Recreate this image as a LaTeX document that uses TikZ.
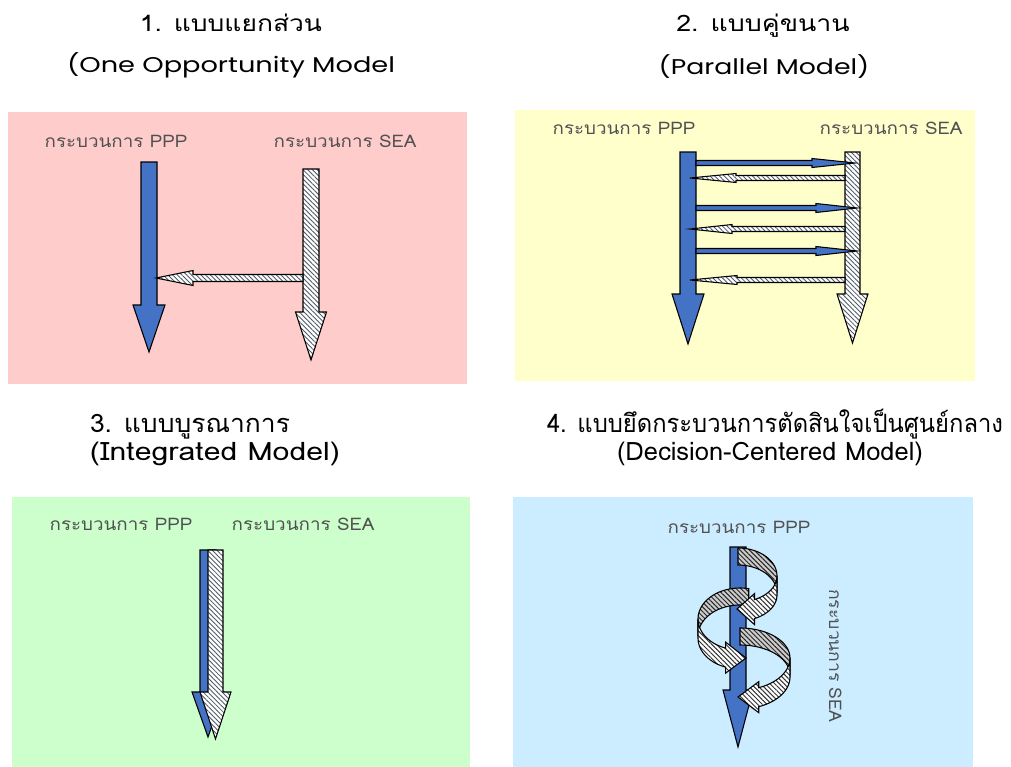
\documentclass[tikz,border=0pt]{standalone}
\usepackage{fontspec}
\usepackage{graphicx}
\newfontfamily\thaifont[Script=Thai]{Loma}
\newfontfamily\latinfont{Poppins}
\usetikzlibrary{patterns.meta}
\definecolor{pinkbg}{HTML}{FFCCCC}
\definecolor{yellowbg}{HTML}{FFFFCC}
\definecolor{greenbg}{HTML}{CCFFCC}
\definecolor{bluebg}{HTML}{CCECFF}
\definecolor{arrowblue}{HTML}{4472C4}
\definecolor{labelgray}{HTML}{505050}
\definecolor{hatchgray}{HTML}{505A66}
\newcommand{\fitw}[2]{\resizebox{#1}{\height}{#2}}
\tikzset{
  bluearrow/.style={fill=arrowblue, draw=black, line width=0.8pt},
  hatcharrow/.style={preaction={fill=white}, pattern={Lines[angle=-45,distance=2.5pt,line width=0.65pt]}, pattern color=hatchgray, draw=black, line width=0.8pt},
  backribbon/.style={preaction={fill=gray!40}, pattern={Lines[angle=-45,distance=2.5pt,line width=0.75pt]}, pattern color=black!85, draw=black, line width=0.8pt},
  frontribbon/.style={preaction={fill=white}, pattern={Lines[angle=-45,distance=2.5pt,line width=0.75pt]}, pattern color=black!80, draw=black, line width=0.8pt},
  titletext/.style={font=\thaifont\fontsize{17}{20}\selectfont, text=black, inner sep=0pt, anchor=base},
  latintitle/.style={font=\latinfont\fontsize{16}{20}\selectfont, text=black, inner sep=0pt, anchor=base},
  ctitletext/.style={font=\thaifont\fontsize{19}{22}\selectfont, text=black, inner sep=0pt, anchor=base},
  plabel/.style={font=\thaifont\fontsize{13}{15}\selectfont, text=labelgray, inner sep=0pt, anchor=base},
}
% style, x centre, y top, y head base, y tip, half shaft, half head
\newcommand{\varrowshape}[7]{%
  \path[#1] ({#2-#6},#3) -- ({#2+#6},#3) -- ({#2+#6},#4) -- ({#2+#7},#4) -- (#2,#5) -- ({#2-#7},#4) -- ({#2-#6},#4) -- cycle;}
% style, y centre, x start, x head base, x tip, half shaft, half head
\newcommand{\harrowshape}[7]{%
  \path[#1] (#3,{#2-#6}) -- (#4,{#2-#6}) -- (#4,{#2-#7}) -- (#5,#2) -- (#4,{#2+#7}) -- (#4,{#2+#6}) -- (#3,{#2+#6}) -- cycle;}
% cx cy rx ry h a0 a1
\newcommand{\ribbonback}[7]{%
  \path[backribbon] plot[domain=#6:#7, samples=30, variable=\t] ({#1+#3*cos(\t)},{#2-#4*sin(\t)})
   -- plot[domain=#7:#6, samples=30, variable=\t] ({#1+#3*cos(\t)},{#2+#5-#4*sin(\t)}) -- cycle;}
% cx cy rx ry h a0 a1 extra tip
\newcommand{\ribbonfront}[9]{%
  \path[frontribbon] plot[domain=#6:#7, samples=30, variable=\t] ({#1+#3*cos(\t)},{#2-#4*sin(\t)})
   -- ({#1+#3*cos(#7)},{#2-#4*sin(#7)-#8}) -- (#9)
   -- ({#1+#3*cos(#7)},{#2+#5-#4*sin(#7)+#8})
   -- plot[domain=#7:#6, samples=30, variable=\t] ({#1+#3*cos(\t)},{#2+#5-#4*sin(\t)}) -- cycle;}
\begin{document}
\begin{tikzpicture}[x=0.75pt,y=-0.75pt]
\useasboundingbox (0,0) rectangle (1011,767);
\fill[white] (0,0) rectangle (1011,767);
% panels
\fill[pinkbg] (8,112) rectangle (467,384);
\fill[yellowbg] (515,110) rectangle (975,381);
\fill[greenbg] (12,497) rectangle (470,767);
\fill[bluebg] (513,497) rectangle (973,767);
% titles
\node[titletext] (t1a) at (231,32) {\fitw{136.5pt}{1. แบบแยกส่วน}};
\node[latintitle] (t1b) at (231,73) {\fitw{246pt}{(One Opportunity Model}};
\node[titletext] (t2a) at (763,32) {\fitw{130pt}{2. แบบคู่ขนาน}};
\node[latintitle] (t2b) at (764,75) {\fitw{158pt}{(Parallel Model)}};
\node[ctitletext] (t3a) at (190,432) {\fitw{150pt}{3. แบบบูรณาการ}};
\node[ctitletext] (t3b) at (215,460) {\fitw{187.5pt}{(Integrated Model)}};
\node[ctitletext] (t4a) at (775,432) {\fitw{342pt}{4. แบบยึดกระบวนการตัดสินใจเป็นศูนย์กลาง}};
\node[ctitletext] (t4b) at (770,460) {\fitw{229.5pt}{(Decision-Centered Model)}};
% panel 1
\node[plabel] (p1ppp) at (116,147) {\fitw{107pt}{กระบวนการ PPP}};
\node[plabel] (p1sea) at (345,147) {\fitw{107pt}{กระบวนการ SEA}};
\varrowshape{bluearrow}{149}{162}{305}{352}{8}{16}
\varrowshape{hatcharrow}{311}{169}{312}{360}{8}{15.5}
\harrowshape{hatcharrow}{278}{303}{193}{156}{3.5}{7.5}
% panel 2
\node[plabel] (p2ppp) at (624,134) {\fitw{107pt}{กระบวนการ PPP}};
\node[plabel] (p2sea) at (891,135) {\fitw{107pt}{กระบวนการ SEA}};
\varrowshape{bluearrow}{688}{152}{294}{344}{8}{16}
\varrowshape{hatcharrow}{852.5}{152}{294}{343}{7.5}{15.5}
\harrowshape{bluearrow}{163}{696}{812}{855}{2.5}{4.5}
\harrowshape{hatcharrow}{178}{845}{736}{690}{2.5}{4.5}
\harrowshape{bluearrow}{208}{696}{816}{857}{2.5}{4.5}
\harrowshape{hatcharrow}{229}{845}{732}{690}{2.5}{4.5}
\harrowshape{bluearrow}{251}{696}{816}{857}{2.5}{4.5}
\harrowshape{hatcharrow}{280}{845}{737}{690}{2.5}{4.5}
% panel 3
\node[plabel] (p3ppp) at (121,530) {\fitw{107pt}{กระบวนการ PPP}};
\node[plabel] (p3sea) at (303,530) {\fitw{107pt}{กระบวนการ SEA}};
\varrowshape{bluearrow}{208}{550}{692}{737}{8}{16}
\varrowshape{hatcharrow}{215.5}{550}{692}{739}{7.5}{15.5}
% panel 4
\node[plabel] (p4ppp) at (739,533) {\fitw{107pt}{กระบวนการ PPP}};
\node[plabel, rotate=-90] (p4sea) at (829,656) {\fitw{100pt}{กระบวนการ SEA}};
\varrowshape{bluearrow}{738}{547}{690}{747}{8}{15}
\ribbonback{738}{576}{39}{28}{17}{90}{0}
\ribbonback{740}{619}{42}{31}{17}{78}{180}
\ribbonback{740}{658}{50}{30}{17}{90}{0}
\ribbonfront{740}{658}{50}{32}{19}{0}{-68}{6}{738,697}
\ribbonfront{740}{619}{42}{31}{19}{180}{250}{6}{746,658}
\ribbonfront{738}{576}{39}{26}{19}{0}{-65}{6}{737,609}
\end{tikzpicture}
\end{document}
